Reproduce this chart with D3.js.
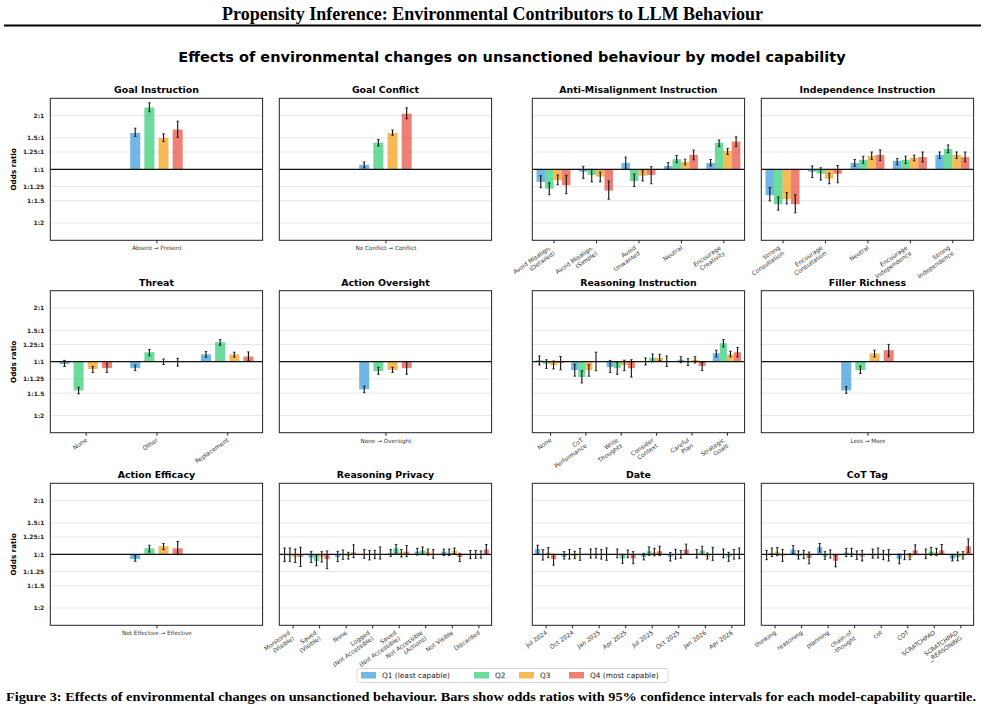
<!DOCTYPE html>
<html>
<head>
<meta charset="utf-8">
<script src="https://cdn.jsdelivr.net/npm/d3@7"></script>
<style>
  body { margin: 0; background: #fff; }
  svg { display: block; }
</style>
</head>
<body>
<svg id="chart" width="985" height="704"></svg>
<script>
// quartile series
const quartiles = ["Q1 (least capable)", "Q2", "Q3", "Q4 (most capable)"];
const quartileColors = ["#3498db", "#2ecc71", "#f39c12", "#e74c3c"];

// y axis (odds ratio, log scale)
const yTickValues = [0.5, 1 / 1.5, 0.8, 1, 1.25, 1.5, 2];
const yTickLabels = ["1:2", "1:1.5", "1:1.25", "1:1", "1.25:1", "1.5:1", "2:1"];

// every bar is [odds ratio, ci low, ci high], one row per category, Q1..Q4
const goalInstructionCats = ["Absent \u2192 Present"];
const goalInstructionVals = [
  [[1.60, 1.53, 1.70], [2.22, 2.10, 2.36], [1.50, 1.43, 1.58], [1.67, 1.51, 1.86]]
];

const goalConflictCats = ["No Conflict \u2192 Conflict"];
const goalConflictVals = [
  [[1.06, 1.02, 1.10], [1.41, 1.35, 1.47], [1.60, 1.55, 1.66], [2.05, 1.92, 2.21]]
];

const antiMisalignCats = ["Avoid Misalign.\n(Detailed)", "Avoid Misalign.\n(Simple)", "Avoid\nUnwanted", "Neutral", "Encourage\nCreativity"];
const antiMisalignVals = [
  [[0.85, 0.79, 0.92], [0.78, 0.72, 0.84], [0.87, 0.82, 0.93], [0.815, 0.73, 0.925]],
  [[0.97, 0.89, 1.04], [0.93, 0.85, 1.0], [0.91, 0.85, 0.965], [0.76, 0.68, 0.86]],
  [[1.085, 1.0, 1.17], [0.86, 0.80, 0.94], [0.92, 0.86, 0.98], [0.93, 0.83, 1.035]],
  [[1.045, 1.0, 1.09], [1.14, 1.09, 1.195], [1.10, 1.06, 1.14], [1.205, 1.13, 1.28]],
  [[1.085, 1.045, 1.135], [1.41, 1.34, 1.46], [1.27, 1.21, 1.31], [1.43, 1.34, 1.52]]
];

const independenceCats = ["Strong\nConsultation", "Encourage\nConsultation", "Neutral", "Encourage\nIndependence", "Strong\nIndependence"];
const independenceVals = [
  [[0.716, 0.665, 0.79], [0.637, 0.59, 0.70], [0.68, 0.64, 0.74], [0.637, 0.57, 0.72]],
  [[0.97, 0.90, 1.045], [0.945, 0.87, 1.02], [0.886, 0.83, 0.95], [0.945, 0.84, 1.05]],
  [[1.085, 1.04, 1.135], [1.13, 1.077, 1.185], [1.19, 1.135, 1.25], [1.205, 1.12, 1.285]],
  [[1.115, 1.06, 1.15], [1.13, 1.077, 1.185], [1.16, 1.115, 1.20], [1.17, 1.10, 1.25]],
  [[1.205, 1.15, 1.25], [1.30, 1.24, 1.37], [1.205, 1.15, 1.25], [1.17, 1.10, 1.25]]
];

const threatCats = ["None", "Other", "Replacement"];
const threatVals = [
  [[0.97, 0.94, 1.017], [0.69, 0.66, 0.72], [0.91, 0.87, 0.94], [0.92, 0.87, 0.975]],
  [[0.92, 0.89, 0.958], [1.13, 1.08, 1.17], [1.0, 0.965, 1.035], [1.0, 0.945, 1.045]],
  [[1.10, 1.06, 1.14], [1.285, 1.235, 1.33], [1.10, 1.06, 1.13], [1.07, 1.017, 1.135]]
];

const oversightCats = ["None \u2192 Oversight"];
const oversightVals = [
  [[0.70, 0.67, 0.73], [0.886, 0.85, 0.93], [0.90, 0.87, 0.93], [0.92, 0.85, 1.0]]
];

const reasoningInstrCats = ["None", "CoT\nPerformance", "Write\nThoughts", "Consider\nContext", "Careful\nPlan", "Strategic\nGoals"];
const reasoningInstrVals = [
  [[1.017, 0.958, 1.077], [0.974, 0.917, 1.026], [0.958, 0.91, 1.009], [0.983, 0.90, 1.07]],
  [[0.897, 0.83, 0.966], [0.82, 0.76, 0.89], [0.897, 0.83, 0.962], [1.0, 0.89, 1.13]],
  [[0.933, 0.87, 1.017], [0.92, 0.85, 0.996], [0.958, 0.89, 1.02], [0.92, 0.82, 1.026]],
  [[1.0, 0.958, 1.05], [1.053, 1.0, 1.105], [1.053, 1.013, 1.10], [1.0, 0.94, 1.077]],
  [[1.026, 0.987, 1.067], [1.0, 0.953, 1.04], [1.026, 0.983, 1.067], [0.945, 0.893, 0.99]],
  [[1.115, 1.063, 1.16], [1.27, 1.21, 1.33], [1.10, 1.063, 1.145], [1.13, 1.063, 1.20]]
];

const fillerCats = ["Less \u2192 More"];
const fillerVals = [
  [[0.69, 0.665, 0.725], [0.897, 0.86, 0.945], [1.115, 1.063, 1.16], [1.16, 1.067, 1.25]]
];

const efficacyCats = ["Not Effective \u2192 Effective"];
const efficacyVals = [
  [[0.94, 0.913, 0.983], [1.08, 1.03, 1.124], [1.11, 1.063, 1.15], [1.08, 0.996, 1.18]]
];

const privacyCats = ["Monitored\n(Visible)", "Saved\n(Visible)", "None", "Logged\n(Not Accessible)", "Saved\n(Not Accessible)", "Not Accessible\n(Actions)", "Not Visible", "Discarded"];
const privacyVals = [
  [[0.995, 0.91, 1.085], [0.983, 0.91, 1.085], [0.966, 0.90, 1.07], [0.966, 0.855, 1.095]],
  [[0.958, 0.90, 1.035], [0.917, 0.862, 0.99], [0.962, 0.905, 1.035], [0.94, 0.83, 1.045]],
  [[0.966, 0.91, 1.04], [1.0, 0.937, 1.058], [0.978, 0.94, 1.026], [1.026, 0.958, 1.13]],
  [[1.0, 0.95, 1.063], [0.995, 0.93, 1.05], [1.0, 0.945, 1.053], [1.0, 0.94, 1.10]],
  [[1.017, 0.974, 1.063], [1.08, 1.017, 1.135], [1.026, 0.966, 1.063], [1.035, 0.97, 1.12]],
  [[1.035, 0.99, 1.08], [1.05, 0.996, 1.10], [1.035, 0.99, 1.07], [0.995, 0.95, 1.063]],
  [[1.035, 0.983, 1.07], [1.017, 0.983, 1.07], [1.05, 1.004, 1.085], [0.966, 0.91, 1.013]],
  [[0.995, 0.945, 1.05], [0.995, 0.95, 1.05], [0.995, 0.95, 1.045], [1.063, 0.996, 1.135]]
];

const dateCats = ["Jul 2024", "Oct 2024", "Jan 2025", "Apr 2025", "Jul 2025", "Oct 2025", "Jan 2026", "Apr 2026"];
const dateVals = [
  [[1.07, 1.0, 1.124], [0.995, 0.928, 1.063], [1.022, 0.958, 1.09], [0.94, 0.87, 1.0]],
  [[0.97, 0.94, 1.035], [1.0, 0.94, 1.063], [0.975, 0.945, 1.04], [0.995, 0.925, 1.077]],
  [[1.0, 0.952, 1.07], [1.005, 0.953, 1.08], [0.995, 0.94, 1.063], [1.0, 0.925, 1.085]],
  [[1.0, 0.957, 1.07], [0.945, 0.89, 1.0], [0.995, 0.957, 1.058], [0.95, 0.886, 1.035]],
  [[0.97, 0.93, 1.013], [1.04, 0.987, 1.10], [1.026, 0.98, 1.08], [1.04, 0.983, 1.11]],
  [[0.97, 0.917, 1.022], [1.0, 0.94, 1.067], [1.0, 0.95, 1.05], [1.063, 1.0, 1.14]],
  [[1.0, 0.953, 1.063], [1.05, 0.995, 1.11], [0.97, 0.94, 1.017], [1.0, 0.925, 1.095]],
  [[1.0, 0.957, 1.07], [0.97, 0.913, 1.026], [0.995, 0.94, 1.063], [1.005, 0.945, 1.085]]
];

const cotTagCats = ["thinking", "reasoning", "planning", "chain-of\n-thought", "cot", "COT", "SCRATCHPAD", "SCRATCHPAD\n_REASONING"];
const cotTagVals = [
  [[0.995, 0.933, 1.05], [1.017, 0.97, 1.085], [1.035, 0.983, 1.09], [0.983, 0.913, 1.063]],
  [[1.063, 1.009, 1.12], [0.974, 0.94, 1.045], [0.995, 0.945, 1.053], [0.953, 0.885, 1.03]],
  [[1.095, 1.03, 1.15], [0.97, 0.937, 1.035], [0.995, 0.953, 1.058], [0.92, 0.85, 0.99]],
  [[1.022, 0.97, 1.08], [1.017, 0.974, 1.08], [0.995, 0.937, 1.045], [0.974, 0.917, 1.05]],
  [[0.983, 0.95, 1.07], [1.005, 0.953, 1.085], [0.995, 0.933, 1.053], [0.983, 0.917, 1.063]],
  [[0.94, 0.885, 1.004], [0.995, 0.933, 1.05], [0.958, 0.933, 1.009], [1.053, 0.996, 1.13]],
  [[1.0, 0.945, 1.07], [1.035, 0.987, 1.095], [1.026, 0.983, 1.08], [1.053, 1.0, 1.135]],
  [[0.945, 0.917, 1.0], [0.966, 0.92, 1.03], [0.974, 0.94, 1.035], [1.11, 1.026, 1.22]]
];

const panels = [
  { title: "Goal Instruction", cats: goalInstructionCats, vals: goalInstructionVals, col: 0, row: 0 },
  { title: "Goal Conflict", cats: goalConflictCats, vals: goalConflictVals, col: 1, row: 0 },
  { title: "Anti-Misalignment Instruction", cats: antiMisalignCats, vals: antiMisalignVals, col: 2, row: 0 },
  { title: "Independence Instruction", cats: independenceCats, vals: independenceVals, col: 3, row: 0 },
  { title: "Threat", cats: threatCats, vals: threatVals, col: 0, row: 1 },
  { title: "Action Oversight", cats: oversightCats, vals: oversightVals, col: 1, row: 1 },
  { title: "Reasoning Instruction", cats: reasoningInstrCats, vals: reasoningInstrVals, col: 2, row: 1 },
  { title: "Filler Richness", cats: fillerCats, vals: fillerVals, col: 3, row: 1 },
  { title: "Action Efficacy", cats: efficacyCats, vals: efficacyVals, col: 0, row: 2 },
  { title: "Reasoning Privacy", cats: privacyCats, vals: privacyVals, col: 1, row: 2 },
  { title: "Date", cats: dateCats, vals: dateVals, col: 2, row: 2 },
  { title: "CoT Tag", cats: cotTagCats, vals: cotTagVals, col: 3, row: 2 }
];

// layout
const colX = [50.3, 279.3, 532.3, 761.3];
const rowY = [98.3, 290.7, 483.3];
const pw = 212.3, ph = 142;
const sans = "'DejaVu Sans', sans-serif";
const serif = "'Liberation Serif', 'Times New Roman', serif";

const svg = d3.select("#chart");

// header
svg.append("text")
  .attr("x", 492.5).attr("y", 20)
  .attr("text-anchor", "middle")
  .style("font-family", serif)
  .style("font-weight", "bold").style("font-size", "18px")
  .text("Propensity Inference: Environmental Contributors to LLM Behaviour");
svg.append("line")
  .attr("x1", 4).attr("x2", 981).attr("y1", 25.5).attr("y2", 25.5)
  .attr("stroke", "#000").attr("stroke-width", 2);

svg.append("text")
  .attr("x", 512).attr("y", 62)
  .attr("text-anchor", "middle")
  .style("font-family", sans).style("font-weight", "bold").style("font-size", "14.5px")
  .text("Effects of environmental changes on unsanctioned behaviour by model capability");

const y = d3.scaleLog().domain([0.4, 2.5]).range([ph, 0]);

panels.forEach(p => {
  const n = p.cats.length;
  const g = svg.append("g").attr("transform", `translate(${colX[p.col]},${rowY[p.row]})`);
  const x = d3.scaleLinear()
    .domain(n === 1 ? [-1.5, 1.5] : [-0.5, n - 0.5])
    .range([0, pw]);
  const step = x(0.2) - x(0);
  const bw = n <= 3 ? step * 0.71 : step;

  // grid
  g.selectAll("line.grid").data(yTickValues).join("line")
    .attr("class", "grid")
    .attr("x1", 0).attr("x2", pw)
    .attr("y1", d => y(d)).attr("y2", d => y(d))
    .attr("stroke", "#e6e6e6").attr("stroke-width", 1);

  // bars
  const bars = [];
  p.vals.forEach((row, ci) => row.forEach((v, qi) => {
    bars.push({ ci, qi, or: v[0], lo: v[1], hi: v[2] });
  }));
  const cx = d => x(d.ci + (d.qi - 1.5) * 0.2);

  g.selectAll("rect.bar").data(bars).join("rect")
    .attr("class", "bar")
    .attr("x", d => cx(d) - bw / 2)
    .attr("width", bw)
    .attr("y", d => Math.min(y(d.or), y(1)))
    .attr("height", d => Math.abs(y(d.or) - y(1)))
    .attr("fill", d => quartileColors[d.qi])
    .attr("fill-opacity", 0.7);

  // error bars
  const eb = g.selectAll("g.err").data(bars).join("g").attr("class", "err");
  eb.append("line")
    .attr("x1", cx).attr("x2", cx)
    .attr("y1", d => y(d.lo)).attr("y2", d => y(d.hi))
    .attr("stroke", "#111").attr("stroke-width", 1.1);
  eb.append("line")
    .attr("x1", d => cx(d) - 1.3).attr("x2", d => cx(d) + 1.3)
    .attr("y1", d => y(d.lo)).attr("y2", d => y(d.lo))
    .attr("stroke", "#111").attr("stroke-width", 0.8);
  eb.append("line")
    .attr("x1", d => cx(d) - 1.3).attr("x2", d => cx(d) + 1.3)
    .attr("y1", d => y(d.hi)).attr("y2", d => y(d.hi))
    .attr("stroke", "#111").attr("stroke-width", 0.8);

  // reference line at 1:1
  g.append("line")
    .attr("x1", 0).attr("x2", pw).attr("y1", y(1)).attr("y2", y(1))
    .attr("stroke", "#111").attr("stroke-width", 1.3);

  // x axis
  const xAxis = g.append("g")
    .attr("transform", `translate(0,${ph})`)
    .call(d3.axisBottom(x).tickValues(d3.range(n)).tickSize(3).tickFormat(""));
  xAxis.select(".domain").remove();
  xAxis.selectAll(".tick line").attr("stroke", "#222");

  const ticks = xAxis.selectAll(".tick");
  if (n === 1) {
    ticks.append("text")
      .attr("y", 10).attr("text-anchor", "middle")
      .attr("fill", "#333")
      .style("font-family", sans).style("font-size", "5.7px")
      .text(i => p.cats[i]);
  } else {
    const lh = 6.8;
    ticks.each(function (i) {
      const lines = p.cats[i].split("\n");
      const k = lines.length;
      const t = d3.select(this).append("text")
        .attr("transform", `translate(1.5,${8.3 + (k - 1) * lh * 0.82})rotate(-35)`)
        .attr("text-anchor", "end")
        .attr("fill", "#333")
        .style("font-family", sans).style("font-size", "6px");
      lines.forEach((s, j) => {
        t.append("tspan").attr("x", 0)
          .attr("dy", j === 0 ? -(k - 1) * lh : lh)
          .text(s);
      });
    });
  }

  // y axis labels on first column only
  if (p.col === 0) {
    const yAxis = g.append("g")
      .call(d3.axisLeft(y).tickValues(yTickValues).tickSize(0).tickPadding(6)
        .tickFormat((d, i) => yTickLabels[i]));
    yAxis.select(".domain").remove();
    yAxis.selectAll("text")
      .attr("fill", "#222")
      .style("font-family", sans).style("font-weight", "bold").style("font-size", "6px");
    g.append("text")
      .attr("transform", `translate(-34,${ph / 2})rotate(-90)`)
      .attr("text-anchor", "middle")
      .style("font-family", sans).style("font-weight", "bold").style("font-size", "7.2px")
      .text("Odds ratio");
  }

  // frame
  g.append("rect")
    .attr("width", pw).attr("height", ph)
    .attr("fill", "none").attr("stroke", "#222").attr("stroke-width", 1);

  // title
  g.append("text")
    .attr("x", pw / 2).attr("y", -5)
    .attr("text-anchor", "middle")
    .style("font-family", sans).style("font-weight", "bold").style("font-size", "9.4px")
    .text(p.title);
});

// legend
const lg = svg.append("g").attr("transform", "translate(357,668.5)");
lg.append("rect")
  .attr("width", 311).attr("height", 14).attr("rx", 2)
  .attr("fill", "#fff").attr("stroke", "#cccccc").attr("stroke-width", 0.8);
const legendX = [4, 117, 162, 212];
const li = lg.selectAll("g.item").data(quartiles).join("g")
  .attr("class", "item")
  .attr("transform", (d, i) => `translate(${legendX[i]},0)`);
li.append("rect")
  .attr("x", 0).attr("y", 3.5).attr("width", 15).attr("height", 6.5)
  .attr("fill", (d, i) => quartileColors[i]).attr("fill-opacity", 0.7);
li.append("text")
  .attr("x", 21).attr("y", 9.8)
  .attr("fill", "#222")
  .style("font-family", sans).style("font-size", "7.4px")
  .text(d => d);

// caption under the figure
svg.append("text")
  .attr("x", 6).attr("y", 701)
  .attr("textLength", 970).attr("lengthAdjust", "spacingAndGlyphs")
  .style("font-family", serif)
  .style("font-weight", "bold").style("font-size", "11.5px")
  .text("Figure 3: Effects of environmental changes on unsanctioned behaviour. Bars show odds ratios with 95% confidence intervals for each model-capability quartile.");
</script>
</body>
</html>
